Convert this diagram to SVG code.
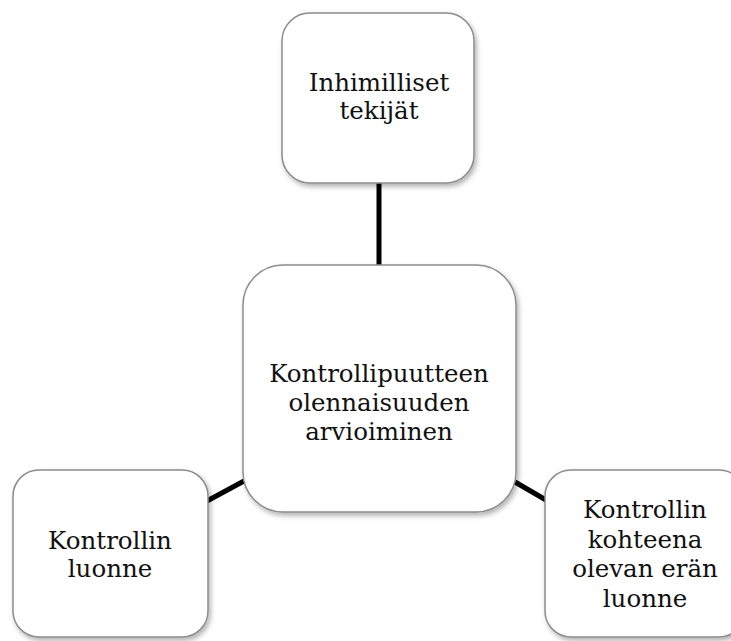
<svg xmlns="http://www.w3.org/2000/svg" width="731" height="641" viewBox="0 0 731 641">
  <defs>
    <filter id="sh" x="-10%" y="-10%" width="125%" height="125%">
      <feDropShadow dx="2" dy="3" stdDeviation="2.5" flood-color="#000" flood-opacity="0.3"/>
    </filter>
    <style>
      .box { fill: #ffffff; stroke: #8c8c8c; stroke-width: 1.5; filter: url(#sh); }
      .lbl { font-family: "DejaVu Serif", "Liberation Serif", serif; font-size: 24.5px; fill: #111; text-anchor: middle; }
      .con { stroke: #000; stroke-width: 5; fill: none; }
    </style>
  </defs>
  <rect width="731" height="641" fill="#ffffff"/>
  <g id="connectors">
    <line class="con" x1="379" y1="183" x2="379" y2="265"/>
    <line class="con" x1="207" y1="501" x2="244" y2="481"/>
    <line class="con" x1="515" y1="482" x2="546" y2="500"/>
  </g>
  <g id="node-top">
    <rect class="box" x="282" y="13" width="192" height="170" rx="28"/>
    <text class="lbl" x="379" y="91">Inhimilliset</text>
    <text class="lbl" x="379" y="119">tekijät</text>
  </g>
  <g id="node-center">
    <rect class="box" x="243" y="265" width="273" height="247" rx="40"/>
    <text class="lbl" x="379" y="382">Kontrollipuutteen</text>
    <text class="lbl" x="379" y="411">olennaisuuden</text>
    <text class="lbl" x="379" y="440">arvioiminen</text>
  </g>
  <g id="node-left">
    <rect class="box" x="13" y="470" width="195" height="167" rx="26"/>
    <text class="lbl" x="110" y="549">Kontrollin</text>
    <text class="lbl" x="110" y="577">luonne</text>
  </g>
  <g id="node-right">
    <rect class="box" x="545" y="470" width="200" height="167" rx="26"/>
    <text class="lbl" x="645" y="518">Kontrollin</text>
    <text class="lbl" x="645" y="548">kohteena</text>
    <text class="lbl" x="645" y="577">olevan erän</text>
    <text class="lbl" x="645" y="607">luonne</text>
  </g>
</svg>
